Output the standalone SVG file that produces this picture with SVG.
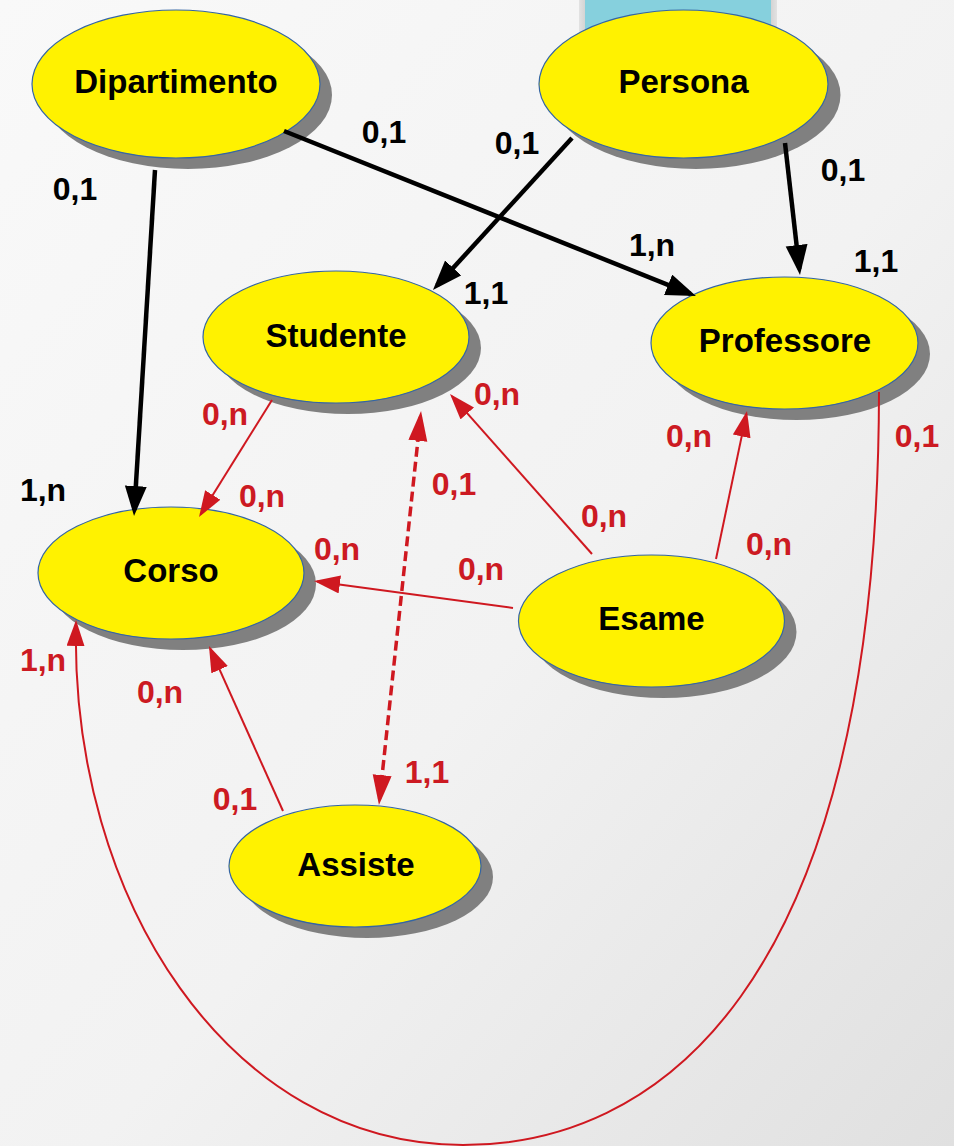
<svg xmlns="http://www.w3.org/2000/svg" width="954" height="1146" viewBox="0 0 954 1146">
<defs>
<linearGradient id="bg" x1="0" y1="0" x2="1" y2="1">
<stop offset="0" stop-color="#f9f9f9"/>
<stop offset="0.55" stop-color="#f2f2f2"/>
<stop offset="1" stop-color="#e0e0e0"/>
</linearGradient>
<linearGradient id="cs" x1="0" y1="0" x2="1" y2="0">
<stop offset="0" stop-color="#e2e2e2"/>
<stop offset="0.03" stop-color="#d4d4d4"/>
<stop offset="0.97" stop-color="#d4d4d4"/>
<stop offset="1" stop-color="#e2e2e2"/>
</linearGradient>
<marker id="ab" markerUnits="userSpaceOnUse" markerWidth="32" markerHeight="24" refX="24" refY="11" orient="auto">
<path d="M0,0 L30,11 L0,22 Z" fill="#000"/>
</marker>
<marker id="ar" markerUnits="userSpaceOnUse" markerWidth="28" markerHeight="20" refX="23" refY="9" orient="auto">
<path d="M0,0 L26,9 L0,18 Z" fill="#cf1820"/>
</marker>
<marker id="ad" markerUnits="userSpaceOnUse" markerWidth="32" markerHeight="21" refX="24" refY="9.5" orient="auto-start-reverse">
<path d="M0,0 L30,9.5 L0,19 Z" fill="#cf1820"/>
</marker>
</defs>
<style>
.sh{fill:#808080}
.el{fill:#fff200;stroke:#3465a4;stroke-width:1.2}
.nt{font-family:"Liberation Sans",Arial,sans-serif;font-weight:bold;font-size:33px;fill:#000;text-anchor:middle}
.lb{font-family:"Liberation Sans",Arial,sans-serif;font-weight:bold;font-size:32px;text-anchor:middle}
.k{fill:#000}
.r{fill:#cc1a22}
.bl{stroke:#000;stroke-width:4.5;fill:none;marker-end:url(#ab)}
.rl{stroke:#cf1820;stroke-width:2;fill:none;marker-end:url(#ar)}
.dl{stroke:#cf1820;stroke-width:3.5;fill:none;stroke-dasharray:10 5;marker-start:url(#ad);marker-end:url(#ad)}
</style>
<rect x="0" y="0" width="954" height="1146" fill="url(#bg)"/>
<rect x="579" y="0" width="198" height="80" fill="url(#cs)"/>
<rect x="585" y="0" width="186" height="80" fill="#86d0dd"/>

<g id="dipartimento">
<ellipse class="sh" cx="188" cy="95" rx="144" ry="74"/>
<ellipse class="el" cx="176" cy="84" rx="144" ry="74"/>
<text class="nt" x="176" y="93">Dipartimento</text>
</g>
<g id="persona">
<ellipse class="sh" cx="696" cy="95" rx="144.5" ry="74"/>
<ellipse class="el" cx="683.5" cy="84" rx="144.5" ry="74"/>
<text class="nt" x="683.5" y="93">Persona</text>
</g>
<g id="studente">
<ellipse class="sh" cx="348" cy="348" rx="133" ry="66"/>
<ellipse class="el" cx="336" cy="337" rx="133" ry="66"/>
<text class="nt" x="336" y="347">Studente</text>
</g>
<g id="professore">
<ellipse class="sh" cx="796.5" cy="354" rx="133.5" ry="66"/>
<ellipse class="el" cx="784.5" cy="343" rx="133.5" ry="66"/>
<text class="nt" x="785" y="352">Professore</text>
</g>
<g id="corso">
<ellipse class="sh" cx="183" cy="584" rx="133" ry="66"/>
<ellipse class="el" cx="171" cy="573" rx="133" ry="66"/>
<text class="nt" x="171" y="582">Corso</text>
</g>
<g id="esame">
<ellipse class="sh" cx="663.5" cy="632" rx="133" ry="66"/>
<ellipse class="el" cx="651.5" cy="621" rx="133" ry="66"/>
<text class="nt" x="651.5" y="630">Esame</text>
</g>
<g id="assiste">
<ellipse class="sh" cx="367" cy="877" rx="126" ry="61"/>
<ellipse class="el" cx="355" cy="866" rx="126" ry="61"/>
<text class="nt" x="356" y="876">Assiste</text>
</g>

<g id="connectors">
<line class="bl" x1="284" y1="131" x2="690.4" y2="293.8"/>
<line class="bl" x1="155" y1="170" x2="134.4" y2="510"/>
<line class="bl" x1="572" y1="138" x2="437" y2="285.6"/>
<line class="bl" x1="785" y1="143" x2="799.3" y2="269"/>
<line class="rl" x1="272" y1="400" x2="200.6" y2="514.5"/>
<line class="rl" x1="592" y1="554" x2="452" y2="396.2"/>
<line class="rl" x1="716" y1="559" x2="746.4" y2="413.9"/>
<line class="rl" x1="513" y1="608" x2="317" y2="581.4"/>
<line class="rl" x1="283" y1="811" x2="210.2" y2="648.7"/>
<line class="dl" x1="420.4" y1="417" x2="379.6" y2="799"/>
<path class="rl" d="M879,392 C878,1000 650,1145 463,1145 C230,1145 70,900 76,623"/>
</g>

<g id="labels">
<text class="lb k" x="384" y="143">0,1</text>
<text class="lb k" x="517" y="154">0,1</text>
<text class="lb k" x="75" y="200">0,1</text>
<text class="lb k" x="652" y="256">1,n</text>
<text class="lb k" x="843" y="181">0,1</text>
<text class="lb k" x="876" y="272">1,1</text>
<text class="lb k" x="486" y="304">1,1</text>
<text class="lb k" x="43" y="501">1,n</text>
<text class="lb r" x="225" y="425">0,n</text>
<text class="lb r" x="262" y="507">0,n</text>
<text class="lb r" x="497" y="405">0,n</text>
<text class="lb r" x="454" y="495">0,1</text>
<text class="lb r" x="604" y="527">0,n</text>
<text class="lb r" x="481" y="580">0,n</text>
<text class="lb r" x="337" y="560">0,n</text>
<text class="lb r" x="689" y="447">0,n</text>
<text class="lb r" x="769" y="555">0,n</text>
<text class="lb r" x="917" y="447">0,1</text>
<text class="lb r" x="43" y="671">1,n</text>
<text class="lb r" x="160" y="703">0,n</text>
<text class="lb r" x="235" y="810">0,1</text>
<text class="lb r" x="427" y="783">1,1</text>
</g>
</svg>
